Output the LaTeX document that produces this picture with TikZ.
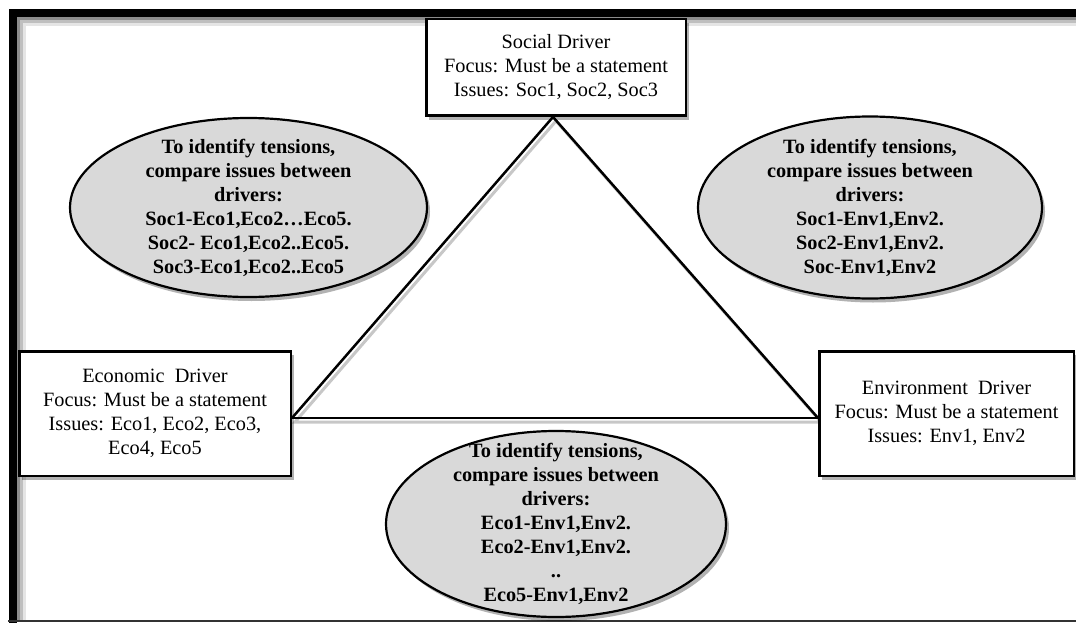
\documentclass[tikz,border=0pt]{standalone}
\usepackage{fontspec}
\setmainfont{Liberation Serif}
\usetikzlibrary{shapes.geometric, shadows, backgrounds}
\definecolor{tensiongray}{HTML}{D9D9D9}
\tikzset{
  boxshadow/.style={drop shadow={shadow xshift=3pt, shadow yshift=-4pt, fill=black, opacity=0.3}},
  driver/.style={draw, line width=2.5pt, fill=white, align=center, inner sep=0pt, boxshadow,
    font=\fontsize{20.3}{24}\selectfont},
  tensionbox/.style={ellipse, draw, line width=2.2pt, fill=tensiongray, align=center, inner sep=-20pt,
    boxshadow, font=\bfseries\fontsize{20.3}{24}\selectfont},
  side/.style={line width=2.5pt},
  sideshadow/.style={line width=3pt, black!22},
}
\begin{document}
\begin{tikzpicture}[x=1pt, y=-1pt]
\useasboundingbox (0,0) rectangle (1076,623);
% frame
\draw[black!10, line width=3pt] (24,620) -- (24,25) -- (1076,25);
\draw[black!25, line width=3pt] (21,620) -- (21,22) -- (1076,22);
\draw[black!45, line width=3pt] (18,620) -- (18,19) -- (1076,19);
\draw[line width=8pt] (12.5,623) -- (12.5,13.5) -- (1076,13.5);
\draw[black!80, line width=2pt] (8,620.5) -- (1076,620.5);
% drivers
\node[driver, minimum width=259.5pt, minimum height=96.5pt] (social) at (556,67.5)
  {Social Driver\\Focus: Must be a statement\\Issues: Soc1, Soc2, Soc3};
\node[driver, minimum width=271.5pt, minimum height=124.5pt] (eco) at (155,413.5)
  {Economic\ \ Driver\\Focus: Must be a statement\\Issues: Eco1, Eco2, Eco3,\\Eco4, Eco5};
\node[driver, minimum width=254.5pt, minimum height=124.5pt] (env) at (946.5,413.5)
  {Environment\ \ Driver\\Focus: Must be a statement\\Issues: Env1, Env2};
% triangle
\coordinate (apex) at ([xshift=-3pt]social.south);
\coordinate (lv) at ([yshift=-4.5pt]eco.east);
\coordinate (rv) at ([yshift=-4.5pt]env.west);
\begin{scope}[on background layer]
\draw[sideshadow] ([shift={(3pt,-4pt)}]apex) -- ([shift={(3pt,-4pt)}]lv) -- ([shift={(3pt,-4pt)}]rv) -- cycle;
\draw[side] (apex) -- (lv);
\draw[side] (apex) -- (rv);
\draw[side] (lv) -- (rv);
\end{scope}
% tensions
\node[tensionbox, minimum width=357pt, minimum height=179pt] (socEco) at (248.5,207.5)
  {To identify tensions,\\compare issues between\\drivers:\\Soc1-Eco1,Eco2\ldots Eco5.\\Soc2- Eco1,Eco2..Eco5.\\Soc3-Eco1,Eco2..Eco5};
\node[tensionbox, minimum width=344pt, minimum height=182pt] (socEnv) at (870,207.5)
  {To identify tensions,\\compare issues between\\drivers:\\Soc1-Env1,Env2.\\Soc2-Env1,Env2.\\Soc-Env1,Env2};
\node[tensionbox, minimum width=340pt, minimum height=186pt] (ecoEnv) at (556,524)
  {To identify tensions,\\compare issues between\\drivers:\\Eco1-Env1,Env2.\\Eco2-Env1,Env2.\\..\\Eco5-Env1,Env2};
\end{tikzpicture}
\end{document}
